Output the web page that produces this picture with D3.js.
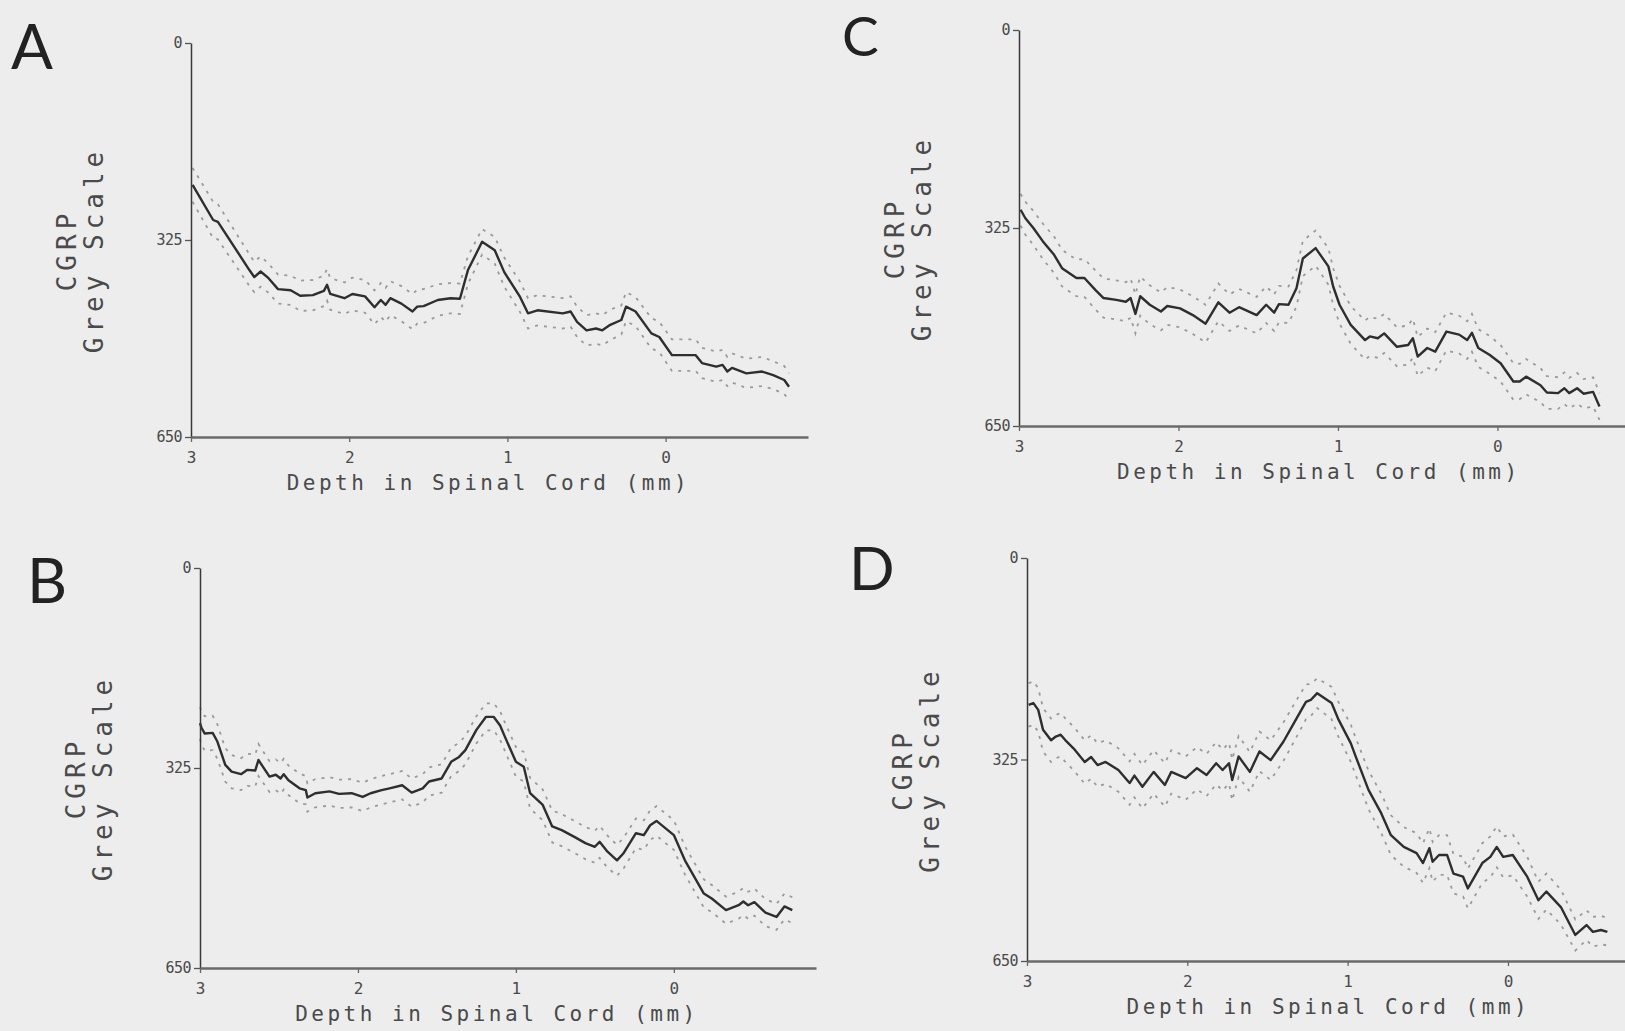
<!DOCTYPE html>
<html>
<head>
<meta charset="utf-8">
<script src="https://cdn.jsdelivr.net/npm/d3@7"></script>
<style>
  body { margin: 0; background: #ededed; }
  svg { display: block; }
</style>
</head>
<body>
<div class="figure-wrapper"></div>
<script>
const colorMean = '#2e2e2e';
const colorBand = '#9a9a9a';
const colorText = '#4a4a4a';
const monoFont = '"DejaVu Sans Mono", "Liberation Mono", monospace';

// [depth (mm), mean grey value, sem]
const panelA = [
    [2.99,234,28],[2.86,292,30],[2.83,295,29],[2.63,375,26],[2.60,386,25],[2.56,377,25],[2.51,388,24],
    [2.45,406,24],[2.37,408,24],[2.31,417,25],[2.23,416,25],[2.16,409,25],[2.14,399,26],[2.12,414,26],
    [2.03,421,26],[1.98,414,27],[1.90,418,27],[1.84,436,28],[1.80,424,28],[1.77,432,28],[1.74,421,28],
    [1.67,430,29],[1.60,443,29],[1.57,435,28],[1.53,434,28],[1.44,424,26],[1.36,421,25],[1.30,422,25],
    [1.25,375,23],[1.16,328,21],[1.08,342,22],[1.02,378,24],[0.92,419,25],[0.87,446,25],[0.81,441,25],
    [0.65,446,25],[0.60,443,25],[0.56,460,25],[0.50,474,25],[0.44,471,25],[0.40,474,25],[0.35,465,25],
    [0.28,457,24],[0.25,435,24],[0.19,443,24],[0.09,479,25],[0.04,485,25],[-0.04,515,26],[-0.19,515,26],
    [-0.23,528,25],[-0.32,534,25],[-0.36,531,25],[-0.39,542,24],[-0.42,536,24],[-0.51,545,24],
    [-0.61,542,24],[-0.68,548,23],[-0.75,556,23],[-0.78,567,22]
];

const panelB = [
    [3.00,252,26],[2.99,260,27],[2.97,269,28],[2.92,268,28],[2.89,282,28],[2.84,320,27],[2.80,331,27],
    [2.74,335,26],[2.70,328,26],[2.65,329,26],[2.63,312,26],[2.56,339,25],[2.52,336,25],[2.49,342,25],
    [2.47,335,25],[2.44,345,24],[2.37,358,24],[2.33,361,23],[2.32,373,23],[2.27,366,23],[2.18,363,23],
    [2.12,367,23],[2.04,366,23],[1.97,372,23],[1.92,366,23],[1.85,361,23],[1.80,358,23],[1.72,353,23],
    [1.66,365,23],[1.59,358,23],[1.55,347,23],[1.47,342,23],[1.41,315,23],[1.36,307,23],[1.32,296,23],
    [1.25,263,22],[1.19,242,22],[1.14,242,22],[1.10,256,23],[1.07,274,23],[1.00,315,24],[0.95,323,24],
    [0.91,366,25],[0.83,385,25],[0.77,420,26],[0.71,426,26],[0.63,437,26],[0.56,447,26],[0.50,453,26],
    [0.47,445,26],[0.42,461,26],[0.36,475,25],[0.32,464,25],[0.24,431,24],[0.19,434,24],[0.15,418,24],
    [0.11,411,24],[0.00,434,24],[-0.07,475,23],[-0.19,529,23],[-0.24,537,22],[-0.33,556,22],
    [-0.41,548,22],[-0.44,542,22],[-0.47,548,22],[-0.51,543,22],[-0.58,560,22],[-0.65,567,21],
    [-0.70,550,21],[-0.75,556,21]
];

const panelC = [
    [2.99,295,26],[2.96,309,27],[2.91,325,28],[2.85,347,29],[2.78,369,30],[2.73,391,30],[2.64,407,30],
    [2.59,407,31],[2.52,427,32],[2.47,440,32],[2.39,443,32],[2.33,446,32],[2.30,440,32],[2.27,466,32],
    [2.24,437,32],[2.18,451,32],[2.11,462,31],[2.07,453,31],[1.99,457,31],[1.91,468,31],[1.83,482,31],
    [1.75,447,31],[1.68,464,30],[1.62,455,30],[1.51,468,30],[1.45,451,30],[1.40,464,30],[1.37,450,30],
    [1.31,451,30],[1.26,424,30],[1.22,375,29],[1.14,358,29],[1.06,388,30],[1.03,421,30],[0.99,451,31],
    [0.92,484,31],[0.83,509,32],[0.80,503,32],[0.75,506,32],[0.71,498,32],[0.63,520,32],[0.56,517,32],
    [0.53,506,32],[0.50,536,32],[0.44,522,32],[0.39,528,32],[0.32,495,31],[0.24,500,31],[0.19,509,31],
    [0.16,497,31],[0.12,522,31],[0.05,533,31],[-0.02,547,30],[-0.10,577,30],[-0.14,577,29],
    [-0.18,569,29],[-0.27,583,28],[-0.31,595,27],[-0.38,596,26],[-0.42,588,26],[-0.45,596,25],
    [-0.50,588,25],[-0.54,597,24],[-0.60,594,24],[-0.64,618,22]
];

const panelD = [
    [2.99,237,35],[2.96,234,35],[2.93,245,35],[2.90,277,35],[2.85,294,35],[2.82,288,35],[2.79,285,35],
    [2.76,294,35],[2.71,307,35],[2.64,329,35],[2.60,321,35],[2.56,334,35],[2.51,329,35],[2.43,342,35],
    [2.36,363,35],[2.33,351,35],[2.28,369,35],[2.21,345,35],[2.14,366,35],[2.10,345,35],[2.01,355,35],
    [1.94,339,34],[1.88,350,34],[1.82,331,34],[1.78,342,33],[1.74,331,33],[1.72,358,33],[1.68,320,33],
    [1.61,345,32],[1.55,312,32],[1.48,326,32],[1.40,296,31],[1.33,264,30],[1.26,232,28],[1.23,229,26],
    [1.19,218,24],[1.10,234,26],[1.06,259,28],[0.98,299,30],[0.95,320,30],[0.87,374,31],[0.79,412,32],
    [0.73,447,32],[0.65,466,32],[0.57,476,32],[0.53,492,32],[0.49,468,32],[0.47,490,32],[0.43,479,32],
    [0.38,479,32],[0.34,509,32],[0.28,514,32],[0.25,533,32],[0.16,492,32],[0.11,482,33],[0.07,466,33],
    [0.03,482,33],[-0.03,479,33],[-0.12,514,32],[-0.19,552,30],[-0.24,538,29],[-0.33,563,28],
    [-0.42,608,25],[-0.49,592,24],[-0.53,603,24],[-0.58,600,23],[-0.62,603,22]
];

const yTicks = [0, 325, 650];
const xTicks = [3, 2, 1, 0];
const xTitle = 'Depth in Spinal Cord (mm)';
const yTitleTop = 'CGRP';
const yTitleBottom = 'Grey Scale';

let panels = [
    { letter: 'A', data: panelA, xDomain: [3, -0.9], xRange: [191, 808], yRange: [43, 437], letterAt: [11, 69], letterSize: 62 },
    { letter: 'B', data: panelB, xDomain: [3, -0.9], xRange: [200, 816], yRange: [568, 968], letterAt: [27, 603], letterSize: 62 },
    { letter: 'C', data: panelC, xDomain: [3, -0.8], xRange: [1019, 1625], yRange: [30, 426], letterAt: [842, 56], letterSize: 55 },
    { letter: 'D', data: panelD, xDomain: [3, -0.73], xRange: [1027, 1625], yRange: [558, 961], letterAt: [849, 590], letterSize: 60 }
];

let canvas = d3.select('.figure-wrapper').append('svg')
    .attr('width', 1625)
    .attr('height', 1031);

canvas.append('rect')
    .attr('width', 1625)
    .attr('height', 1031)
    .attr('fill', '#ededed');

function drawPanel(panel) {
    let x = d3.scaleLinear().domain(panel.xDomain).range(panel.xRange);
    let y = d3.scaleLinear().domain([0, 650]).range(panel.yRange);
    let g = canvas.append('g').attr('class', 'panel panel-' + panel.letter);

    let upperLine = d3.line()
        .x((d) => x(d[0]))
        .y((d) => y(d[1] - d[2]));
    let lowerLine = d3.line()
        .x((d) => x(d[0]))
        .y((d) => y(d[1] + d[2]));
    let meanLine = d3.line()
        .x((d) => x(d[0]))
        .y((d) => y(d[1]));

    [upperLine, lowerLine].forEach((band) => {
        g.append('path')
            .attr('d', band(panel.data))
            .attr('fill', 'none')
            .attr('stroke', colorBand)
            .attr('stroke-width', 1.8)
            .attr('stroke-dasharray', '3 6');
    });

    g.append('path')
        .attr('d', meanLine(panel.data))
        .attr('fill', 'none')
        .attr('stroke', colorMean)
        .attr('stroke-width', 2.4)
        .attr('stroke-linejoin', 'round');

    // axes
    let yAxis = d3.axisLeft(y)
        .tickValues(yTicks)
        .tickSize(6)
        .tickSizeOuter(0)
        .tickPadding(3);
    let yAxisG = g.append('g')
        .attr('transform', `translate(${panel.xRange[0]},0)`)
        .call(yAxis);
    yAxisG.select('.domain').attr('stroke', '#3a3a3a').attr('stroke-width', 1.5);
    yAxisG.selectAll('.tick line').attr('stroke', '#555').attr('stroke-width', 1.3);
    yAxisG.selectAll('.tick text')
        .attr('font-family', monoFont)
        .attr('font-size', 15)
        .attr('letter-spacing', -0.5)
        .attr('fill', colorText);

    let xAxis = d3.axisBottom(x)
        .tickValues(xTicks)
        .tickSize(5)
        .tickSizeOuter(0)
        .tickPadding(10)
        .tickFormat(d3.format('d'));
    let xAxisG = g.append('g')
        .attr('transform', `translate(0,${panel.yRange[1]})`)
        .call(xAxis);
    xAxisG.select('.domain').attr('stroke', '#6a6a6a').attr('stroke-width', 2.6);
    xAxisG.selectAll('.tick line').attr('stroke', '#666').attr('stroke-width', 1.3);
    xAxisG.selectAll('.tick text')
        .attr('font-family', monoFont)
        .attr('font-size', 16)
        .attr('fill', colorText);

    // titles
    g.append('text')
        .attr('x', x(1.12))
        .attr('y', panel.yRange[1] + 53)
        .attr('text-anchor', 'middle')
        .attr('font-family', monoFont)
        .attr('font-size', 21)
        .attr('letter-spacing', 3.5)
        .attr('fill', colorText)
        .text(xTitle);

    let yMid = (panel.yRange[0] + panel.yRange[1]) / 2 + 10;
    [[yTitleTop, -124], [yTitleBottom, -97]].forEach((t) => {
        g.append('text')
            .attr('transform', `translate(${panel.xRange[0] + t[1]},${yMid}) rotate(-90)`)
            .attr('text-anchor', 'middle')
            .attr('dominant-baseline', 'central')
            .attr('font-family', monoFont)
            .attr('font-size', 26)
            .attr('letter-spacing', 5)
            .attr('fill', colorText)
            .text(t[0]);
    });

    g.append('text')
        .attr('x', panel.letterAt[0])
        .attr('y', panel.letterAt[1])
        .attr('font-family', 'Lato, "Open Sans", sans-serif')
        .attr('font-size', panel.letterSize)
        .attr('fill', '#222')
        .text(panel.letter);
}

panels.forEach(drawPanel);
</script>
</body>
</html>
